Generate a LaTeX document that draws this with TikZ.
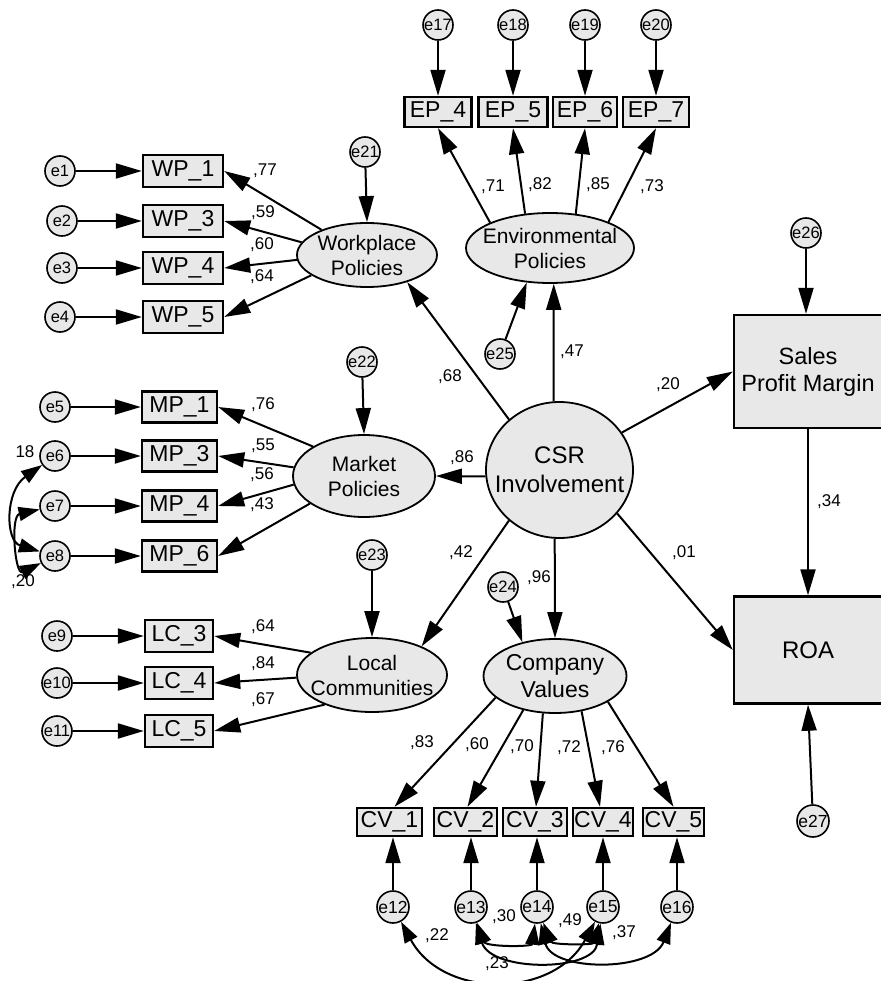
\documentclass[tikz,border=0pt]{standalone}
\usepackage{fontspec}
\setmainfont{Liberation Sans}
\usetikzlibrary{shapes.geometric,arrows.meta}
\definecolor{gfill}{gray}{0.91}
\tikzset{
 lat/.style={ellipse, draw, line width=1.8pt, fill=gfill, inner sep=0pt},
 obs/.style={rectangle, draw, line width=2.4pt, fill=gfill, inner sep=0pt, font=\fontsize{23}{25}\selectfont},
 err/.style={circle, draw, line width=1.6pt, fill=gfill, inner sep=0pt, minimum size=30pt, font=\fontsize{16.5}{16.5}\selectfont},
 errb/.style={err, minimum size=32pt, font=\fontsize{17.5}{17.5}\selectfont},
 txt/.style={align=center, inner sep=0pt},
 pth/.style={line width=2pt, -{Triangle[length=26pt,width=15pt]}},
 cov/.style={line width=2pt, {Triangle[length=21pt,width=14pt]}-{Triangle[length=21pt,width=14pt]}},
 lbl/.style={inner sep=0pt, font=\fontsize{17}{17}\selectfont},
}
\begin{document}
\begin{tikzpicture}[x=1pt,y=-1pt]
\useasboundingbox (0,0) rectangle (880,981);
% ---------------- Workplace Policies
\node[lat, minimum width=140pt, minimum height=64pt] (wp) at (367,255) {};
\node[txt, font=\fontsize{21}{25}\selectfont] (wpt) at (wp) {Workplace\\Policies};
\node[err] (e21) at (365,152) {e21};
\draw[pth] (e21) -- (wp.north);
\foreach \i/\n/\y/\ex in {1/1/171/60, 2/3/221/62, 3/4/268/62, 4/5/317/60} {
  \node[obs, minimum width=80pt, minimum height=32pt] (wp\n) at (183,\y) {WP\_\n};
  \node[err] (e\i) at (\ex,\y) {e\i};
  \draw[pth] (e\i) -- (wp\n);
}
\draw[pth] (wp.151) -- (wp1.east);
\draw[pth] (wp.169) -- (wp3.east);
\draw[pth] (wp.184) -- (wp4.east);
\draw[pth] (wp.200) -- (wp5.east);
\node[lbl] (l1) at (265,171) {,77};
\node[lbl] (l2) at (263,213) {,59};
\node[lbl] (l3) at (262,245) {,60};
\node[lbl] (l4) at (262,277) {,64};
% ---------------- Market Policies
\node[lat, minimum width=142pt, minimum height=82pt] (mk) at (364,476) {};
\node[txt, font=\fontsize{21}{25}\selectfont] (mkt) at (mk) {Market\\Policies};
\node[err] (e22) at (362,362) {e22};
\draw[pth] (e22) -- (mk.north);
\foreach \i/\n/\y in {5/1/407, 6/3/456, 7/4/506, 8/6/556} {
  \node[obs, minimum width=75pt, minimum height=31pt] (mp\n) at (179.5,\y) {MP\_\n};
  \node[err] (e\i) at (55,\y) {e\i};
  \draw[pth] (e\i) -- (mp\n);
}
\draw[pth] (mk.150) -- (mp1.east);
\draw[pth] (mk.173) -- (mp3.east);
\draw[pth] (mk.187) -- (mp4.east);
\draw[pth] (mk.207) -- (mp6.east);
\node[lbl] (l5) at (263,405) {,76};
\node[lbl] (l6) at (263,446) {,55};
\node[lbl] (l7) at (262,475) {,56};
\node[lbl] (l8) at (262,505) {,43};
\draw[cov] (e6) .. controls +(-50,35) and +(-50,-15) .. (e8);
\draw[cov] (e7) .. controls +(-45,10) and +(-40,20) .. (e8);
\node[lbl] (l9) at (25,452) {18};
\node[lbl] (l10) at (23,582) {,20};
% ---------------- Local Communities
\node[lat, minimum width=150pt, minimum height=74pt] (lc) at (372,675) {};
\node[txt, font=\fontsize{21}{25}\selectfont] (lct) at (lc) {Local\\Communities};
\node[err] (e23) at (372,555) {e23};
\draw[pth] (e23) -- (lc.north);
\foreach \i/\n/\y in {9/3/636, 10/4/683, 11/5/731} {
  \node[obs, minimum width=68pt, minimum height=32pt] (lc\n) at (179,\y) {LC\_\n};
  \node[err] (e\i) at (57,\y) {e\i};
  \draw[pth] (e\i) -- (lc\n);
}
\draw[pth] (lc.160) -- (lc3.east);
\draw[pth] (lc.182) -- (lc4.east);
\draw[pth] (lc.212) -- (lc5.east);
\node[lbl] (l11) at (263,627) {,64};
\node[lbl] (l12) at (263,664) {,84};
\node[lbl] (l13) at (263,700) {,67};
% ---------------- Environmental Policies
\node[lat, minimum width=168pt, minimum height=70pt] (env) at (550,248) {};
\node[txt, font=\fontsize{21}{25}\selectfont] (envt) at (env) {Environmental\\Policies};
\foreach \i/\n/\x/\w in {17/4/438/67, 18/5/513/69, 19/6/585/64, 20/7/656/66} {
  \node[obs, minimum width=\w pt, minimum height=30pt] (ep\n) at (\x,112) {EP\_\n};
  \node[err] (e\i) at (\x,25) {e\i};
  \draw[pth] (e\i) -- (ep\n);
}
\draw[pth] (env.157) -- (ep4.south);
\draw[pth] (env.126) -- (ep5.south);
\draw[pth] (env.53) -- (ep6.south);
\draw[pth] (env.24) -- (ep7.south);
\node[lbl] (l14) at (493,187) {,71};
\node[lbl] (l15) at (540,185) {,82};
\node[lbl] (l16) at (598,185) {,85};
\node[lbl] (l17) at (652,187) {,73};
\node[err] (e25) at (500,354) {e25};
\draw[pth] (e25) -- (env.236);
% ---------------- CSR Involvement
\node[lat, minimum width=147pt, minimum height=136pt] (csr) at (559.5,470) {};
\node[txt, font=\fontsize{24}{29}\selectfont] (csrt) at (csr) {CSR\\Involvement};
\draw[pth] (csr.95) -- (env.276);
\draw[pth] (csr.135) -- (wp.-34);
\draw[pth] (csr.185) -- (mk.east);
\draw[pth] (csr.225) -- (lc.30);
\node[lbl] (l18) at (572,352) {,47};
\node[lbl] (l19) at (450,377) {,68};
\node[lbl] (l20) at (462,458) {,86};
\node[lbl] (l21) at (461,553) {,42};
% ---------------- Company Values
\node[lat, minimum width=143pt, minimum height=74pt] (cv) at (555,676) {};
\node[txt, font=\fontsize{23}{27}\selectfont] (cvt) at (cv) {Company\\Values};
\node[err] (e24) at (503,587) {e24};
\draw[pth] (e24) -- (cv.134);
\draw[pth] (csr.266) -- (cv.north);
\node[lbl] (l22) at (539,578) {,96};
\foreach \i/\n/\x/\w/\ex in {12/1/389.5/65/393, 13/2/465.5/63/471, 14/3/535/64/537, 15/4/603/60/603, 16/5/673.5/61/677} {
  \node[obs, minimum width=\w pt, minimum height=28pt] (cv\n) at (\x,822) {CV\_\n};
  \node[errb] (e\i) at (\ex,907) {e\i};
  \draw[pth] (e\i) -- (e\i |- cv\n.south);
}
\draw[pth] (cv.200) -- ([xshift=5pt]cv1.north);
\draw[pth] (cv.227) -- ([xshift=2pt]cv2.north);
\draw[pth] (cv.252) -- ([xshift=1pt]cv3.north);
\draw[pth] (cv.307) -- ([xshift=-3pt]cv4.north);
\draw[pth] (cv.334) -- (cv5.north);
\node[lbl] (l23) at (422,743) {,83};
\node[lbl] (l24) at (477,745) {,60};
\node[lbl] (l25) at (522,747) {,70};
\node[lbl] (l26) at (569,748) {,72};
\node[lbl] (l27) at (613,748) {,76};
\draw[cov] (e12) .. controls +(50,92) and +(-50,92) .. (e15);
\draw[cov] (e13) .. controls +(20,65) and +(-10,65) .. (e15);
\draw[cov] (e14) .. controls +(15,65) and +(-25,65) .. (e16);
\draw[cov] (e13) .. controls +(15,40) and +(-5,40) .. (e14);
\draw[cov] (e14) .. controls +(15,38) and +(-10,38) .. (e15);
\node[lbl] (l28) at (504,917) {,30};
\node[lbl] (l29) at (570,921) {,49};
\node[lbl] (l30) at (624,933) {,37};
\node[lbl] (l31) at (437,936) {,22};
\node[lbl] (l32) at (497,964) {,23};
% ---------------- Sales / ROA
\node[obs, minimum width=148pt, minimum height=113pt, align=center, font=\fontsize{23.5}{27}\selectfont] (spm) at (808,371.5) {Sales\\Profit Margin};
\node[obs, minimum width=148pt, minimum height=107pt, font=\fontsize{24}{27}\selectfont] (roa) at (808,650) {ROA};
\node[err] (e26) at (806,233) {e26};
\node[errb] (e27) at (813,821) {e27};
\draw[pth] (e26) -- (e26 |- spm.north);
\draw[pth] (e27) -- (roa.south);
\draw[pth] (spm.south) -- (roa.north);
\draw[pth] (csr.31) -- (spm.west);
\draw[pth] (csr.-37) -- (roa.west);
\node[lbl] (l33) at (668,385) {,20};
\node[lbl] (l34) at (684,553) {,01};
\node[lbl] (l35) at (829,502) {,34};
\end{tikzpicture}
\end{document}
